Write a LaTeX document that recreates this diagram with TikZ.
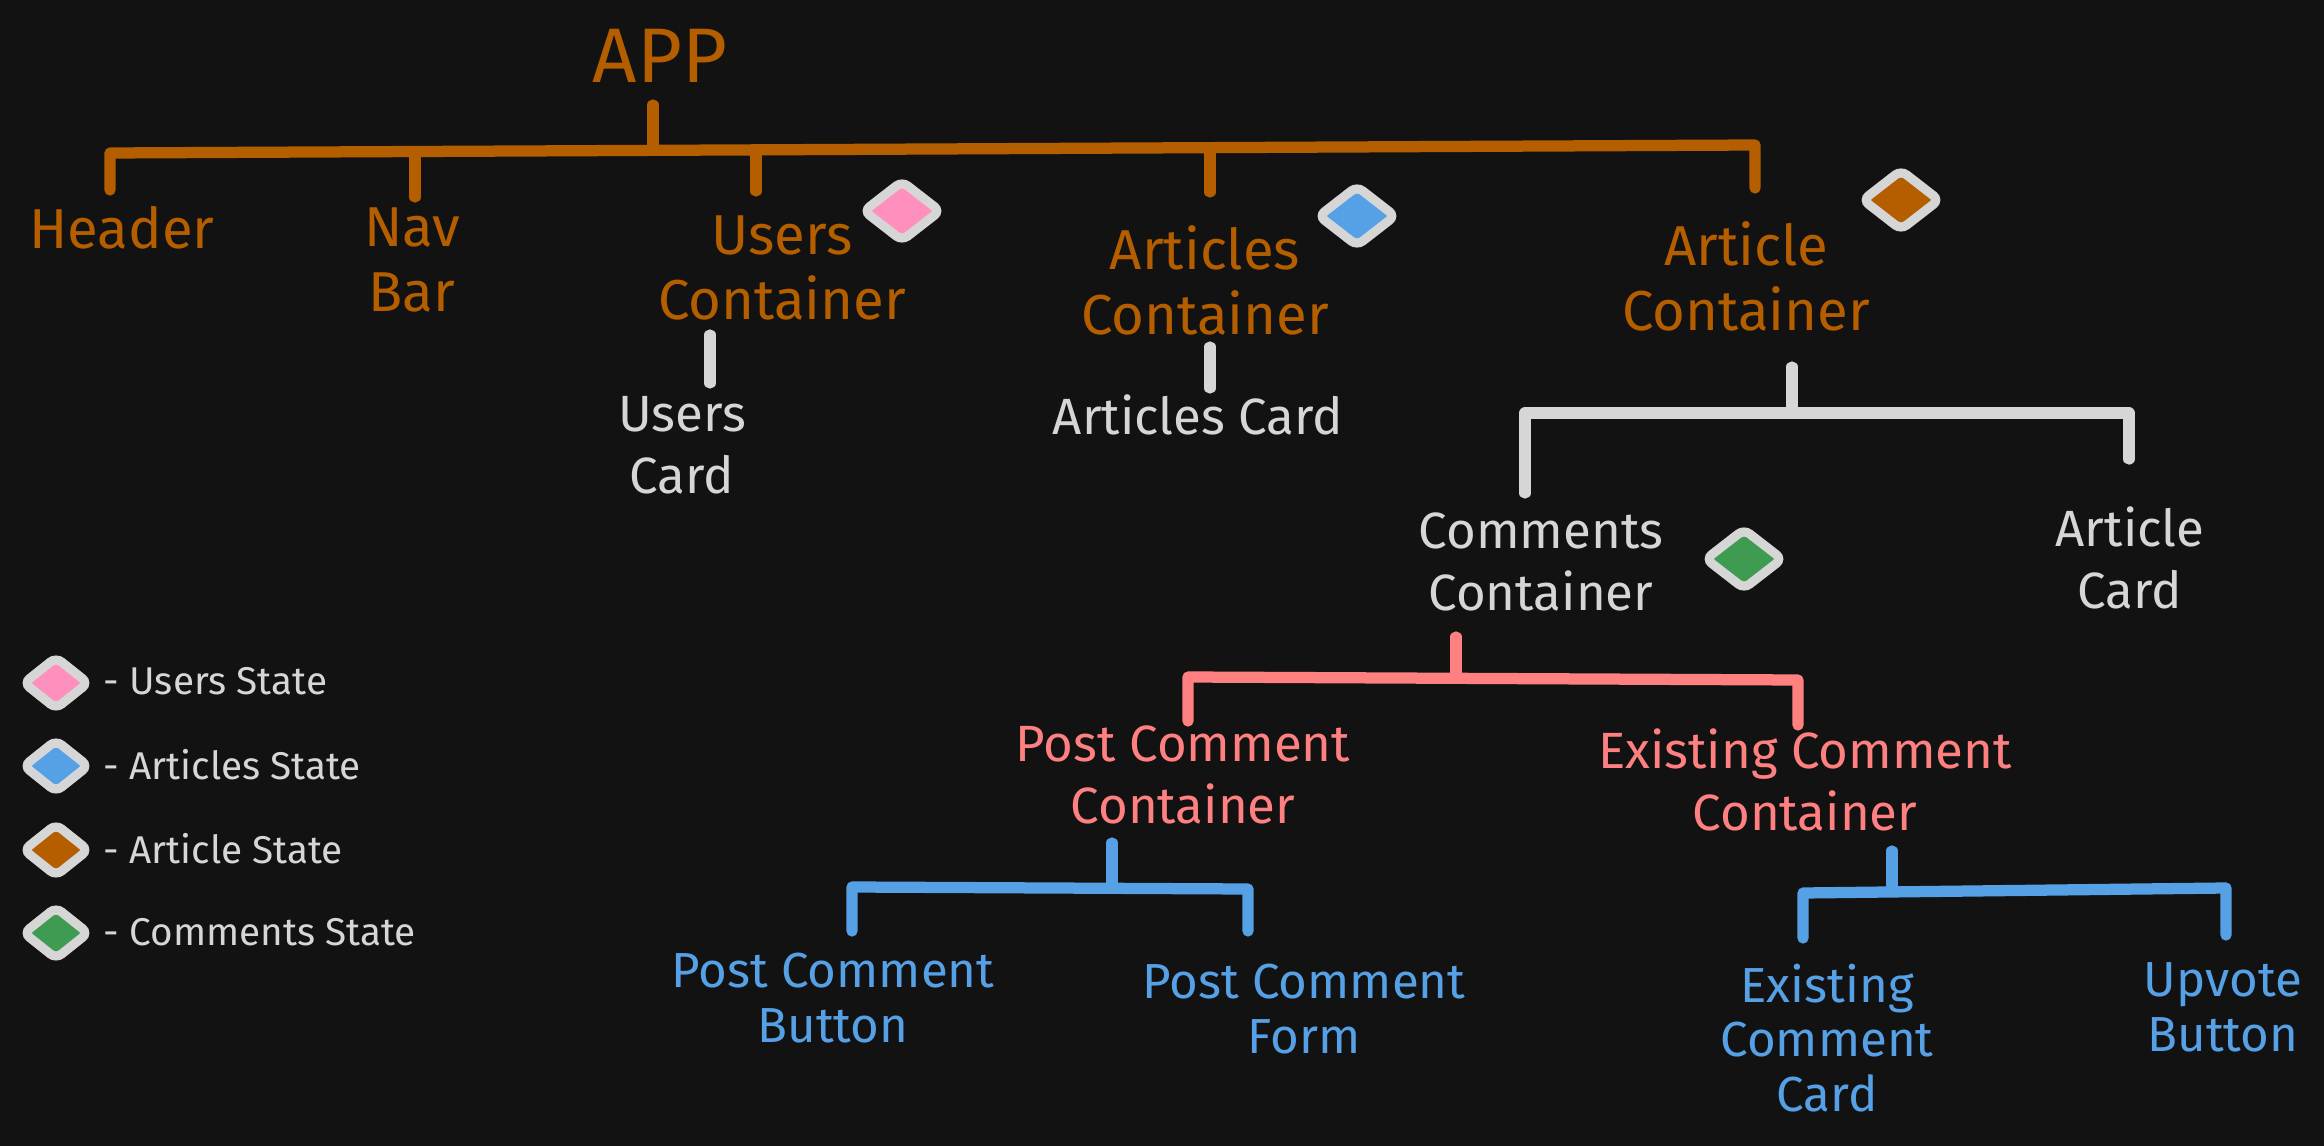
\documentclass[tikz,border=0pt]{standalone}
\usepackage{fontspec}
\setmainfont{Fira Sans}

\definecolor{bgc}{RGB}{18,18,18}
\definecolor{orangec}{RGB}{181,94,0}
\definecolor{greyc}{RGB}{214,214,214}
\definecolor{redc}{RGB}{255,128,128}
\definecolor{bluec}{RGB}{86,160,230}
\definecolor{pinkc}{RGB}{255,143,188}
\definecolor{greenc}{RGB}{64,155,82}

\tikzset{
  lvlA/.style={text=orangec, align=center, inner sep=0pt, font=\fontsize{16}{18.5}\selectfont},
  lvlB/.style={text=greyc, align=center, inner sep=0pt, font=\fontsize{14.5}{17.6}\selectfont},
  lvlC/.style={text=redc, align=center, inner sep=0pt, font=\fontsize{14.5}{17.6}\selectfont},
  lvlD/.style={text=bluec, align=center, inner sep=0pt, font=\fontsize{14}{15.6}\selectfont},
  tree/.style={line width=3.2pt, line cap=round, line join=round},
  legtext/.style={text=greyc, anchor=west, inner sep=0pt, font=\fontsize{11}{13}\selectfont},
  pics/statemark/.style={code={
    \draw[greyc, line width=2.6pt, rounded corners=2pt, fill=#1]
      (-38,0) -- (0,-29.5) -- (38,0) -- (0,29.5) -- cycle;}},
  pics/legmark/.style={code={
    \draw[greyc, line width=2.6pt, rounded corners=2pt, fill=#1]
      (-32,0) -- (0,-25.5) -- (32,0) -- (0,25.5) -- cycle;}}
}

\begin{document}
\begin{tikzpicture}[x=0.01cm, y=-0.01cm]
  \fill[bgc] (0,0) rectangle (2324,1146);
  \useasboundingbox (0,0) rectangle (2324,1146);

  \node[lvlA, font=\fontsize{22}{26}\selectfont] (app) at (660,56) {APP};

  \node[lvlA] (header) at (122,228) {Header};
  \node[lvlA] (navBar) at (412,260) {Nav\\Bar};
  \node[lvlA] (usersCont) at (782,268) {Users\\Container};
  \node[lvlA] (articlesCont) at (1205,280) {Articles\\Container};
  \node[lvlA] (articleCont) at (1746,276) {Article\\Container};

  \node[lvlB] (usersCard) at (682,445) {Users\\Card};
  \node[lvlB] (articlesCard) at (1198,415) {Articles Card};
  \node[lvlB] (commentsCont) at (1541,562) {Comments\\Container};
  \node[lvlB] (articleCard) at (2130,558) {Article\\Card};

  \node[lvlC] (postCont) at (1183,775) {Post Comment\\Container};
  \node[lvlC] (existCont) at (1805,780) {Existing Comment\\Container};

  \node[lvlD] (postBtn) at (833,998) {Post Comment\\Button};
  \node[lvlD] (postForm) at (1304,1009) {Post Comment\\Form};
  \node[lvlD] (existCard) at (1827,1038) {Existing\\Comment\\Card};
  \node[lvlD] (upvoteBtn) at (2223,1007) {Upvote\\Button};

  % state markers
  \pic (usersMark) at (902,211) {statemark=pinkc};
  \pic (articlesMark) at (1357,216) {statemark=bluec};
  \pic (articleMark) at (1901,200) {statemark=orangec};
  \pic (commentsMark) at (1744,559) {statemark=greenc};

  % APP level
  \coordinate (appStem) at (653,105);
  \coordinate (barAL) at (110,153);
  \coordinate (barAR) at (1755,145);
  \coordinate (headerTop) at (110,190);
  \coordinate (navTop) at (415,197);
  \coordinate (usersTop) at (756,191);
  \coordinate (articlesTop) at (1210,192);
  \coordinate (articleTop) at (1755,188);
  \draw[tree, orangec] (headerTop) -- (barAL) -- (barAR) -- (articleTop);
  \draw[tree, orangec] (appStem) -- (appStem |- 0,149);
  \draw[tree, orangec] (navTop) -- (navTop |- 0,152);
  \draw[tree, orangec] (usersTop) -- (usersTop |- 0,150);
  \draw[tree, orangec] (articlesTop) -- (articlesTop |- 0,148);

  % containers to cards
  \coordinate (usersStem) at (710,335);
  \coordinate (usersCardTop) at (710,383);
  \draw[tree, greyc] (usersStem) -- (usersCardTop);
  \coordinate (articlesStem) at (1210,347);
  \coordinate (articlesCardTop) at (1210,388);
  \draw[tree, greyc] (articlesStem) -- (articlesCardTop);

  \coordinate (articleStem) at (1792,367);
  \coordinate (barBL) at (1525,413);
  \coordinate (barBR) at (2129,413);
  \coordinate (commentsTop) at (1525,493);
  \coordinate (articleCardTop) at (2129,459);
  \draw[tree, greyc] (commentsTop) -- (barBL) -- (barBR) -- (articleCardTop);
  \draw[tree, greyc] (articleStem) -- (articleStem |- barBL);

  % comments level
  \coordinate (commentsStem) at (1456,637);
  \coordinate (barCL) at (1188,677);
  \coordinate (barCR) at (1798,680);
  \coordinate (postTop) at (1188,721);
  \coordinate (existTop) at (1798,725);
  \draw[tree, redc] (postTop) -- (barCL) -- (barCR) -- (existTop);
  \draw[tree, redc] (commentsStem) -- (commentsStem |- 0,678);

  % post comment level
  \coordinate (postStem) at (1112,843);
  \coordinate (barDL) at (852,887);
  \coordinate (barDR) at (1248,889);
  \coordinate (postBtnTop) at (852,931);
  \coordinate (postFormTop) at (1248,931);
  \draw[tree, bluec] (postBtnTop) -- (barDL) -- (barDR) -- (postFormTop);
  \draw[tree, bluec] (postStem) -- (postStem |- 0,888);

  % existing comment level
  \coordinate (existStem) at (1892,851);
  \coordinate (barEL) at (1803,893);
  \coordinate (barER) at (2226,888);
  \coordinate (existCardTop) at (1803,938);
  \coordinate (upvoteTop) at (2226,935);
  \draw[tree, bluec] (existCardTop) -- (barEL) -- (barER) -- (upvoteTop);
  \draw[tree, bluec] (existStem) -- (existStem |- 0,891);

  % Labeling
  \pic (legUsers) at (56,683) {legmark=pinkc};
  \pic (legArticles) at (56,766) {legmark=bluec};
  \pic (legArticle) at (56,850) {legmark=orangec};
  \pic (legComments) at (56,933) {legmark=greenc};

  \node[legtext] (legUsersText) at (103,681) {- Users State};
  \node[legtext] (legArticlesText) at (103,765) {- Articles State};
  \node[legtext] (legArticleText) at (103,849) {- Article State};
  \node[legtext] (legCommentsText) at (103,932) {- Comments State};

\end{tikzpicture}
\end{document}
